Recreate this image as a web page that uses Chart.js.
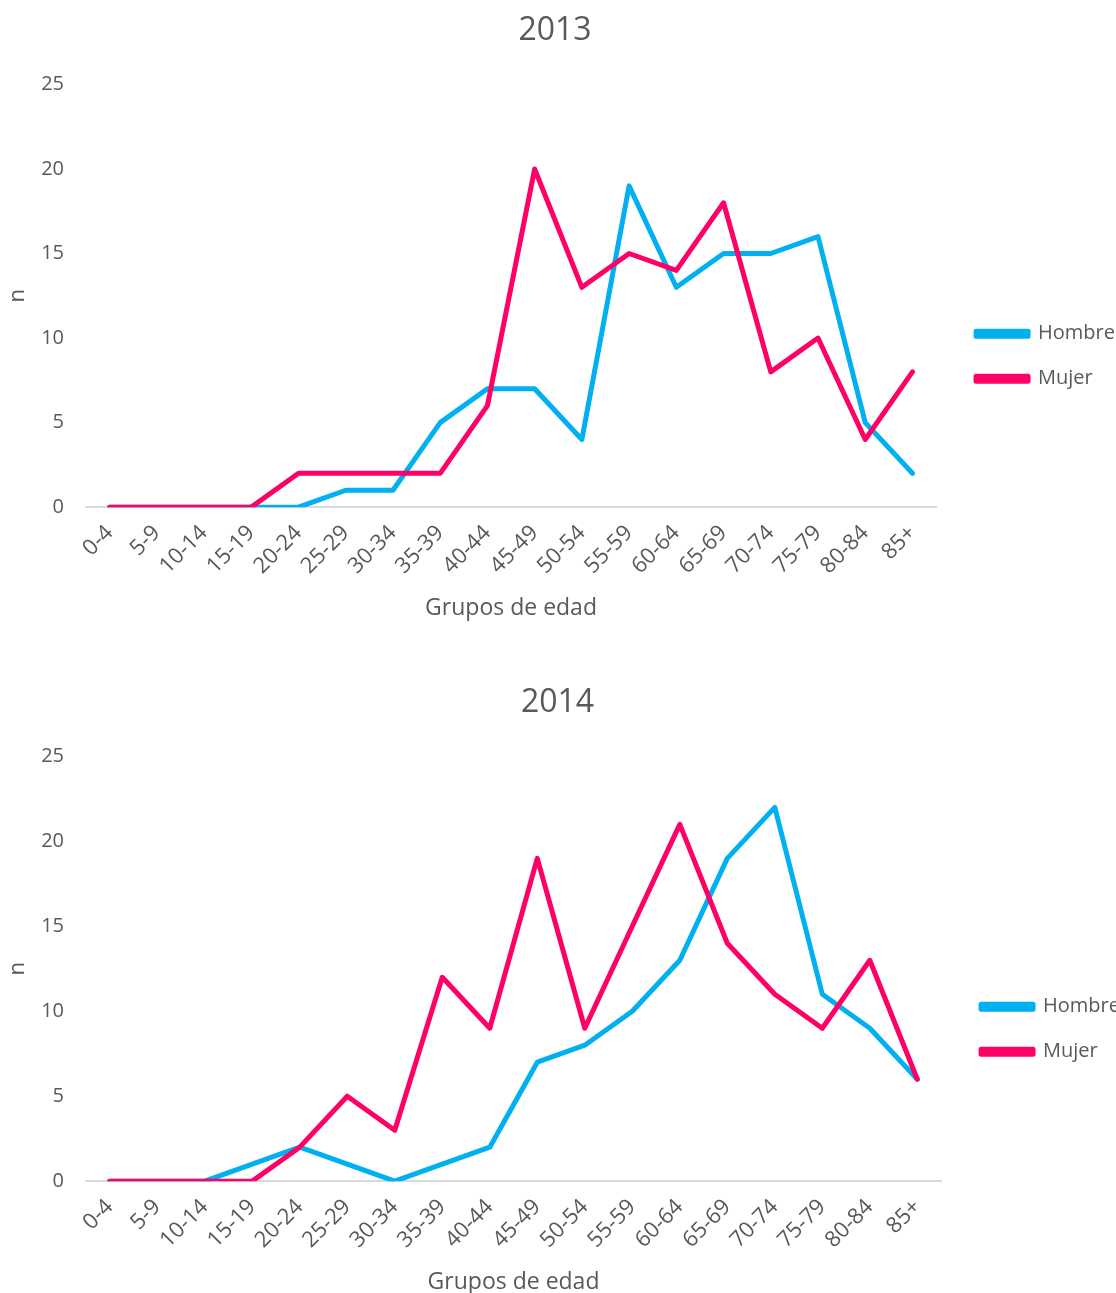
<!DOCTYPE html>
<html>
<head>
<meta charset="utf-8">
<script src="https://cdn.jsdelivr.net/npm/chart.js@4.4.0/dist/chart.umd.min.js"></script>
<style>
  body { margin: 0; background: #fff; overflow: hidden; }
  .box { position: absolute; left: 0; width: 1116px; }
</style>
</head>
<body>
<div class="box" style="top:0;height:640px"><canvas id="c2013" width="1116" height="640"></canvas></div>
<div class="box" style="top:672px;height:642px"><canvas id="c2014" width="1116" height="642"></canvas></div>
<script>
const grupos = ['0-4', '5-9', '10-14', '15-19', '20-24', '25-29', '30-34', '35-39', '40-44',
    '45-49', '50-54', '55-59', '60-64', '65-69', '70-74', '75-79', '80-84', '85+'];

const hombre2013 = [0, 0, 0, 0, 0, 1, 1, 5, 7, 7, 4, 19, 13, 15, 15, 16, 5, 2];
const mujer2013 = [0, 0, 0, 0, 2, 2, 2, 2, 6, 20, 13, 15, 14, 18, 8, 10, 4, 8];

const hombre2014 = [0, 0, 0, 1, 2, 1, 0, 1, 2, 7, 8, 10, 13, 19, 22, 11, 9, 6];
const mujer2014 = [0, 0, 0, 0, 2, 5, 3, 12, 9, 19, 9, 15, 21, 14, 11, 9, 13, 6];

const yTicks = [0, 5, 10, 15, 20, 25];

const AZUL = '#00B0F0';
const ROSA = '#FF0066';
const GRIS = '#595959';

Chart.defaults.font.family = '"Open Sans", sans-serif';
Chart.defaults.color = GRIS;

// push legend entries a bit away from the plot (gap in the original is wider than labels.padding)
const legendShift = {
    id: 'legendShift',
    afterLayout(chart, args, opts) {
        if (chart.legend) {
            chart.legend.left += opts.dx;
            chart.legend.right += opts.dx;
        }
    }
};

function serie(label, data, color, order) {
    return {
        label: label,
        data: data,
        order: order,
        borderColor: color,
        backgroundColor: color,
        borderWidth: 5,
        borderCapStyle: 'round',
        borderJoinStyle: 'round',
        pointRadius: 0,
        tension: 0,
        fill: false
    };
}

function makeChart(id, titulo, hombre, mujer, rightPad) {
    const ctx = document.getElementById(id).getContext('2d');
    return new Chart(ctx, {
        type: 'line',
        data: {
            labels: grupos,
            // Mujer drawn on top, like the original
            datasets: [serie('Hombre', hombre, AZUL, 2), serie('Mujer', mujer, ROSA, 1)]
        },
        plugins: [legendShift],
        options: {
            responsive: false,
            animation: false,
            layout: { padding: { left: 0, right: rightPad, top: 0, bottom: 14 } },
            plugins: {
                legendShift: { dx: 15 },
                title: {
                    display: true,
                    text: titulo,
                    color: GRIS,
                    font: { size: 32, weight: 'normal' },
                    padding: { top: 12, bottom: 34 }
                },
                legend: {
                    position: 'right',
                    align: 'center',
                    title: { display: true, text: ' ', padding: { top: 72, bottom: 0 } },
                    labels: {
                        boxWidth: 52,
                        boxHeight: 5,
                        padding: 25,
                        color: GRIS,
                        font: { size: 20 },
                        sort: (a, b) => a.datasetIndex - b.datasetIndex
                    }
                },
                tooltip: { enabled: false }
            },
            scales: {
                x: {
                    offset: true,
                    afterFit: function (axis) {
                        axis.paddingLeft = 0;
                    },
                    grid: { display: false, drawTicks: false },
                    border: { display: true, color: '#D9D9D9', width: 2 },
                    ticks: {
                        color: GRIS,
                        font: { size: 22 },
                        maxRotation: 45,
                        minRotation: 45,
                        autoSkip: false,
                        padding: 13
                    },
                    title: {
                        display: true,
                        text: 'Grupos de edad',
                        color: GRIS,
                        font: { size: 23 },
                        padding: { top: 2 }
                    }
                },
                y: {
                    min: 0,
                    max: 25,
                    afterBuildTicks: function (axis) {
                        axis.ticks = yTicks.map(v => ({ value: v }));
                    },
                    afterFit: function (axis) {
                        axis.width = 86;
                    },
                    grid: { display: false, drawTicks: false },
                    border: { display: false },
                    ticks: {
                        color: GRIS,
                        font: { size: 20 },
                        padding: 22
                    },
                    title: {
                        display: true,
                        text: 'n',
                        color: GRIS,
                        font: { size: 22 },
                        padding: { top: 5, bottom: 0 }
                    }
                }
            }
        }
    });
}

makeChart('c2013', '2013', hombre2013, mujer2013, 6);
makeChart('c2014', '2014', hombre2014, mujer2014, 1);
</script>
</body>
</html>
